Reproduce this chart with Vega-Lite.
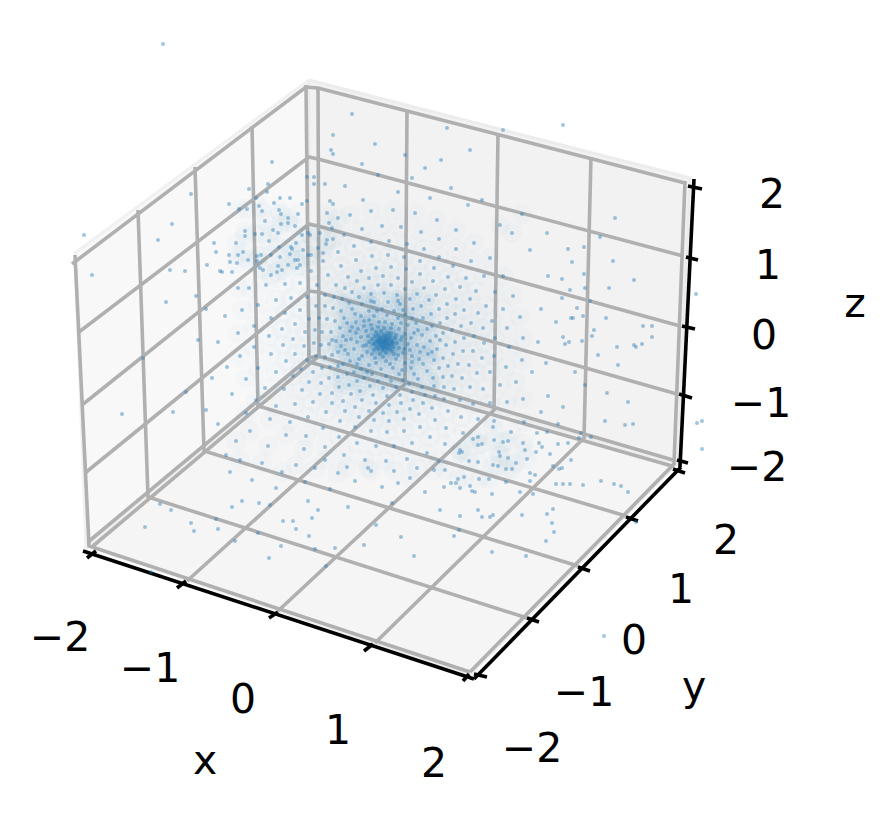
{"$schema":"https://vega.github.io/schema/vega-lite/v6.json","autosize":{"type":"fit","contains":"padding"},"width":895,"height":816,"padding":0,"background":"white","view":{"stroke":null},
"datasets":{
"panes":[{"g":"left","o":0,"a":309,"b":80},{"g":"left","o":1,"a":75,"b":253},{"g":"left","o":2,"a":86,"b":548},{"g":"left","o":3,"a":309,"b":360},{"g":"left","o":4,"a":309,"b":80},
{"g":"back","o":0,"a":309,"b":80},{"g":"back","o":1,"a":690,"b":178},{"g":"back","o":2,"a":678,"b":464},{"g":"back","o":3,"a":309,"b":356},{"g":"back","o":4,"a":309,"b":80},
{"g":"floor","o":0,"a":87,"b":546},{"g":"floor","o":1,"a":309,"b":360},{"g":"floor","o":2,"a":675,"b":465},{"g":"floor","o":3,"a":470,"b":675},{"g":"floor","o":4,"a":87,"b":546}],
"grid":[
{"g":"x-2","o":0,"a":93,"b":546},{"g":"x-2","o":1,"a":319,"b":356},{"g":"x-2","o":2,"a":318,"b":87},
{"g":"x-1","o":0,"a":187,"b":581},{"g":"x-1","o":1,"a":405,"b":384},{"g":"x-1","o":2,"a":407,"b":110},
{"g":"x0","o":0,"a":278,"b":611},{"g":"x0","o":1,"a":494,"b":410},{"g":"x0","o":2,"a":498,"b":133},
{"g":"x1","o":0,"a":375,"b":643},{"g":"x1","o":1,"a":584,"b":438},{"g":"x1","o":2,"a":591,"b":157},
{"g":"x2","o":0,"a":470,"b":672},{"g":"x2","o":1,"a":674,"b":464},{"g":"x2","o":2,"a":685,"b":181},
{"g":"y-2","o":0,"a":470,"b":672},{"g":"y-2","o":1,"a":89,"b":546},{"g":"y-2","o":2,"a":75,"b":255},
{"g":"y-1","o":0,"a":527,"b":618},{"g":"y-1","o":1,"a":148,"b":497},{"g":"y-1","o":2,"a":138,"b":210},
{"g":"y0","o":0,"a":578,"b":566},{"g":"y0","o":1,"a":204,"b":451},{"g":"y0","o":2,"a":195,"b":167},
{"g":"y1","o":0,"a":626,"b":516},{"g":"y1","o":1,"a":258,"b":406},{"g":"y1","o":2,"a":252,"b":126},
{"g":"y2","o":0,"a":672,"b":466},{"g":"y2","o":1,"a":309,"b":362},{"g":"y2","o":2,"a":306,"b":85},
{"g":"z-2","o":0,"a":673,"b":460},{"g":"z-2","o":1,"a":318,"b":356},{"g":"z-2","o":2,"a":309,"b":358},{"g":"z-2","o":3,"a":88,"b":542},
{"g":"z-1","o":0,"a":677,"b":394},{"g":"z-1","o":1,"a":318,"b":292},{"g":"z-1","o":2,"a":309,"b":291},{"g":"z-1","o":3,"a":85,"b":473},
{"g":"z0","o":0,"a":680,"b":326},{"g":"z0","o":1,"a":318,"b":226},{"g":"z0","o":2,"a":309,"b":224},{"g":"z0","o":3,"a":82,"b":405},
{"g":"z1","o":0,"a":683,"b":256},{"g":"z1","o":1,"a":318,"b":159},{"g":"z1","o":2,"a":309,"b":157},{"g":"z1","o":3,"a":79,"b":332},
{"g":"z2","o":0,"a":685,"b":183},{"g":"z2","o":1,"a":318,"b":88},{"g":"z2","o":2,"a":306,"b":87},{"g":"z2","o":3,"a":72,"b":264}],
"axes":[
{"g":"xa","o":0,"a":83,"b":551},{"g":"xa","o":1,"a":474,"b":679},
{"g":"ya","o":0,"a":474,"b":679},{"g":"ya","o":1,"a":681,"b":467},
{"g":"za","o":0,"a":694,"b":179},{"g":"za","o":1,"a":680,"b":467},
{"g":"xt0","o":0,"a":87,"b":558},{"g":"xt0","o":1,"a":96,"b":551},
{"g":"xt1","o":0,"a":177,"b":588},{"g":"xt1","o":1,"a":186,"b":581},
{"g":"xt2","o":0,"a":269,"b":618},{"g":"xt2","o":1,"a":278,"b":612},
{"g":"xt3","o":0,"a":364,"b":651},{"g":"xt3","o":1,"a":373,"b":644},
{"g":"xt4","o":0,"a":463,"b":681},{"g":"xt4","o":1,"a":469,"b":674},
{"g":"yt0","o":0,"a":474,"b":674},{"g":"yt0","o":1,"a":487,"b":677},
{"g":"yt1","o":0,"a":527,"b":618},{"g":"yt1","o":1,"a":539,"b":622},
{"g":"yt2","o":0,"a":578,"b":567},{"g":"yt2","o":1,"a":590,"b":571},
{"g":"yt3","o":0,"a":626,"b":517},{"g":"yt3","o":1,"a":638,"b":521},
{"g":"yt4","o":0,"a":673,"b":469},{"g":"yt4","o":1,"a":685,"b":473},
{"g":"zt0","o":0,"a":688,"b":186},{"g":"zt0","o":1,"a":702,"b":189},
{"g":"zt1","o":0,"a":686,"b":257},{"g":"zt1","o":1,"a":698,"b":260},
{"g":"zt2","o":0,"a":682,"b":326},{"g":"zt2","o":1,"a":695,"b":329},
{"g":"zt3","o":0,"a":679,"b":394},{"g":"zt3","o":1,"a":692,"b":398},
{"g":"zt4","o":0,"a":677,"b":460},{"g":"zt4","o":1,"a":688,"b":463}],
"labels":[
{"t":"−2","a":60,"b":639},{"t":"−1","a":150,"b":670},{"t":"0","a":243,"b":701},{"t":"1","a":338,"b":732},{"t":"2","a":434,"b":765},{"t":"x","a":205,"b":762},
{"t":"−2","a":532,"b":750},{"t":"−1","a":584,"b":694},{"t":"0","a":634,"b":642},{"t":"1","a":681,"b":591},{"t":"2","a":726,"b":542},{"t":"y","a":694,"b":688},
{"t":"2","a":772,"b":196},{"t":"1","a":768,"b":267},{"t":"0","a":764,"b":337},{"t":"−1","a":761,"b":405},{"t":"−2","a":757,"b":469},{"t":"z","a":855,"b":305}],
"pts":[
{"a":163,"b":44},{"a":604,"b":636},{"a":697,"b":423},{"a":563,"b":125},{"a":352,"b":114},{"a":696,"b":294},{"a":702,"b":421},{"a":702,"b":449},{"a":447,"b":128},{"a":503,"b":130},
{"a":84,"b":235},{"a":172,"b":224},{"a":158,"b":240},{"a":92,"b":275},{"a":191,"b":194},{"a":170,"b":270},{"a":185,"b":271},{"a":229,"b":204},{"a":249,"b":189},{"a":272,"b":162},{"a":268,"b":184},{"a":267,"b":192},{"a":239,"b":209},{"a":247,"b":209},{"a":256,"b":198},{"a":259,"b":206},{"a":262,"b":211},{"a":274,"b":203},{"a":280,"b":198},{"a":290,"b":198},{"a":279,"b":210},{"a":281,"b":214},{"a":288,"b":218},{"a":298,"b":214},{"a":302,"b":204},{"a":307,"b":201},{"a":307,"b":177},{"a":314,"b":177},{"a":314,"b":184},{"a":325,"b":184},{"a":333,"b":135},{"a":331,"b":150},{"a":333,"b":154},{"a":265,"b":221},{"a":281,"b":224},{"a":288,"b":223},{"a":295,"b":226},{"a":245,"b":231},{"a":245,"b":236},{"a":255,"b":234},{"a":262,"b":234},{"a":273,"b":230},{"a":278,"b":233},{"a":269,"b":241},{"a":214,"b":243},{"a":236,"b":243},{"a":216,"b":252},{"a":243,"b":252},{"a":238,"b":255},{"a":229,"b":255},{"a":230,"b":262},{"a":237,"b":263},{"a":248,"b":260},{"a":207,"b":265},{"a":220,"b":271},{"a":222,"b":272},{"a":232,"b":272},{"a":257,"b":256},{"a":261,"b":255},{"a":271,"b":255},{"a":279,"b":247},{"a":280,"b":257},{"a":257,"b":261},{"a":263,"b":270},{"a":271,"b":275},{"a":277,"b":272},{"a":282,"b":270},{"a":288,"b":265},{"a":290,"b":254},{"a":295,"b":260},{"a":298,"b":260},{"a":300,"b":265},{"a":291,"b":247},{"a":296,"b":243},{"a":302,"b":235},{"a":308,"b":233},{"a":303,"b":250},{"a":308,"b":255},{"a":318,"b":248},{"a":323,"b":253},{"a":327,"b":240},{"a":333,"b":239},{"a":320,"b":233},{"a":332,"b":228},{"a":338,"b":218},{"a":330,"b":201},{"a":333,"b":204},{"a":327,"b":213},
{"a":145,"b":527},{"a":160,"b":504},{"a":171,"b":510},{"a":191,"b":523},{"a":194,"b":531},{"a":216,"b":519},{"a":218,"b":529},{"a":232,"b":507},{"a":242,"b":501},{"a":259,"b":503},{"a":270,"b":505},{"a":235,"b":541},{"a":258,"b":533},{"a":269,"b":558},{"a":281,"b":546},{"a":283,"b":521},{"a":293,"b":521},{"a":296,"b":529},{"a":312,"b":518},{"a":309,"b":536},{"a":315,"b":549},{"a":335,"b":548},{"a":326,"b":566},{"a":308,"b":501},{"a":151,"b":572},
{"a":492,"b":552},{"a":526,"b":556},{"a":546,"b":541},{"a":554,"b":532},{"a":552,"b":523},{"a":553,"b":509},{"a":547,"b":514},{"a":522,"b":515},{"a":493,"b":515},{"a":490,"b":517},{"a":482,"b":517},{"a":478,"b":510},{"a":460,"b":516},{"a":459,"b":530},{"a":454,"b":536},{"a":636,"b":522},{"a":628,"b":492},{"a":621,"b":486},{"a":614,"b":484},{"a":601,"b":481},{"a":583,"b":485},{"a":570,"b":484},{"a":563,"b":484},{"a":556,"b":484},{"a":533,"b":494},{"a":520,"b":492},{"a":492,"b":494},{"a":475,"b":492},{"a":472,"b":491},{"a":460,"b":488},{"a":470,"b":486},{"a":444,"b":487},{"a":456,"b":483},{"a":451,"b":483},{"a":458,"b":479},{"a":464,"b":477},{"a":479,"b":479},{"a":489,"b":479},{"a":506,"b":482},{"a":530,"b":481},{"a":530,"b":473},{"a":535,"b":475},{"a":553,"b":466},{"a":559,"b":469},{"a":562,"b":468},{"a":571,"b":460},{"a":550,"b":454},{"a":558,"b":444},{"a":568,"b":443},{"a":579,"b":438},{"a":591,"b":437},{"a":581,"b":433},{"a":605,"b":421},{"a":625,"b":425},{"a":633,"b":424},{"a":539,"b":443},{"a":542,"b":447},{"a":536,"b":452},{"a":527,"b":459},{"a":525,"b":450},{"a":516,"b":463},{"a":508,"b":458},{"a":506,"b":469},{"a":512,"b":469},{"a":493,"b":465},{"a":498,"b":466},{"a":478,"b":462},{"a":469,"b":461},{"a":459,"b":453},{"a":462,"b":452},{"a":482,"b":444},{"a":478,"b":445},{"a":473,"b":439},{"a":494,"b":440},{"a":503,"b":442},{"a":508,"b":441},{"a":523,"b":443},{"a":499,"b":452},{"a":500,"b":456},{"a":493,"b":427},{"a":511,"b":432},{"a":537,"b":433},{"a":547,"b":432},{"a":558,"b":424},
{"a":615,"b":218},{"a":600,"b":237},{"a":568,"b":249},{"a":584,"b":247},{"a":613,"b":261},{"a":634,"b":280},{"a":562,"b":279},{"a":584,"b":274},{"a":609,"b":288},{"a":585,"b":288},{"a":570,"b":290},{"a":562,"b":298},{"a":577,"b":308},{"a":571,"b":318},{"a":573,"b":318},{"a":583,"b":316},{"a":594,"b":330},{"a":592,"b":336},{"a":643,"b":326},{"a":652,"b":326},{"a":652,"b":337},{"a":563,"b":337},{"a":569,"b":342},{"a":565,"b":344},{"a":582,"b":341},{"a":617,"b":347},{"a":634,"b":345},{"a":636,"b":347},{"a":642,"b":344},
{"a":385,"b":342},{"a":381,"b":338},{"a":389,"b":339},{"a":386,"b":346},{"a":380,"b":345},{"a":391,"b":344},{"a":384,"b":335},{"a":377,"b":341},{"a":393,"b":347},{"a":383,"b":350},{"a":388,"b":333},{"a":375,"b":336},{"a":395,"b":338},{"a":378,"b":349},{"a":397,"b":343},{"a":373,"b":344},{"a":386,"b":353},{"a":392,"b":351},{"a":381,"b":331},{"a":391,"b":333},{"a":372,"b":339},{"a":399,"b":348},{"a":376,"b":332},{"a":383,"b":341},{"a":388,"b":343},{"a":379,"b":342},{"a":385,"b":338},{"a":392,"b":341},{"a":376,"b":347},{"a":387,"b":349},{"a":382,"b":347},{"a":390,"b":336},{"a":374,"b":350},{"a":396,"b":335},{"a":401,"b":340},{"a":369,"b":342},{"a":380,"b":354},{"a":394,"b":354},{"a":384,"b":328},{"a":378,"b":335},{"a":386,"b":340},{"a":383,"b":344},{"a":389,"b":346},{"a":381,"b":342},{"a":387,"b":336},{"a":379,"b":339},{"a":393,"b":343},{"a":375,"b":343},{"a":384,"b":348},{"a":390,"b":349},
{"a":366,"b":331},{"a":371,"b":325},{"a":379,"b":322},{"a":392,"b":324},{"a":399,"b":329},{"a":405,"b":334},{"a":408,"b":344},{"a":403,"b":353},{"a":396,"b":359},{"a":386,"b":361},{"a":375,"b":358},{"a":367,"b":352},{"a":363,"b":346},{"a":361,"b":337},{"a":358,"b":329},{"a":364,"b":321},{"a":374,"b":316},{"a":387,"b":315},{"a":398,"b":318},{"a":408,"b":325},{"a":414,"b":333},{"a":417,"b":345},{"a":412,"b":356},{"a":405,"b":363},{"a":393,"b":368},{"a":381,"b":369},{"a":369,"b":365},{"a":359,"b":359},{"a":354,"b":349},{"a":351,"b":339},{"a":352,"b":327},{"a":361,"b":316},{"a":369,"b":311},{"a":382,"b":309},{"a":394,"b":311},{"a":405,"b":315},{"a":416,"b":323},{"a":422,"b":335},{"a":424,"b":347},{"a":419,"b":359},{"a":411,"b":368},{"a":399,"b":374},{"a":386,"b":376},{"a":372,"b":374},{"a":361,"b":369},{"a":350,"b":361},{"a":345,"b":350},{"a":343,"b":336},{"a":347,"b":323},{"a":355,"b":314},{"a":369,"b":320},{"a":378,"b":327},{"a":391,"b":328},{"a":402,"b":337},{"a":404,"b":349},{"a":398,"b":355},{"a":383,"b":357},{"a":372,"b":354},{"a":366,"b":345},{"a":368,"b":336},{"a":372,"b":329},{"a":385,"b":322},{"a":401,"b":323},{"a":411,"b":338},{"a":410,"b":350},{"a":390,"b":364},{"a":376,"b":363},{"a":362,"b":356},{"a":357,"b":342},{"a":356,"b":333},{"a":364,"b":326},{"a":377,"b":311},{"a":403,"b":310},{"a":412,"b":318},{"a":427,"b":329},{"a":430,"b":341},{"a":428,"b":354},{"a":423,"b":364},{"a":414,"b":374},{"a":403,"b":380},{"a":391,"b":381},{"a":378,"b":381},{"a":364,"b":378},{"a":354,"b":372},{"a":343,"b":364},{"a":338,"b":352},{"a":336,"b":341},{"a":340,"b":328},{"a":344,"b":318},{"a":352,"b":309},{"a":362,"b":304},{"a":374,"b":302},{"a":388,"b":302},{"a":400,"b":304},{"a":413,"b":309},{"a":423,"b":318},{"a":432,"b":326},{"a":436,"b":336},{"a":437,"b":349},{"a":434,"b":360},{"a":427,"b":371},{"a":418,"b":379},{"a":409,"b":384},{"a":396,"b":387},{"a":383,"b":388},{"a":370,"b":386},{"a":357,"b":381},{"a":347,"b":374},{"a":338,"b":366},{"a":332,"b":355},{"a":329,"b":344},{"a":331,"b":332},{"a":335,"b":321},{"a":341,"b":311},{"a":349,"b":303},{"a":359,"b":297},{"a":371,"b":294},{"a":384,"b":293},{"a":397,"b":295},{"a":410,"b":299},{"a":421,"b":306},{"a":431,"b":314},{"a":440,"b":323},{"a":443,"b":333},{"a":446,"b":345},{"a":443,"b":358},{"a":439,"b":368},{"a":433,"b":378},{"a":422,"b":387},{"a":412,"b":392},{"a":400,"b":395},{"a":387,"b":396},{"a":373,"b":395},{"a":360,"b":391},{"a":349,"b":385},{"a":338,"b":377},{"a":330,"b":367},{"a":325,"b":357},{"a":321,"b":345},{"a":322,"b":332},{"a":327,"b":319},{"a":333,"b":308},{"a":342,"b":299},{"a":352,"b":292},{"a":364,"b":288},{"a":378,"b":285},{"a":391,"b":285},{"a":405,"b":289},{"a":417,"b":294},{"a":429,"b":300},{"a":439,"b":309},{"a":447,"b":318},{"a":452,"b":330},{"a":455,"b":342},{"a":453,"b":354},{"a":448,"b":366},{"a":443,"b":377},{"a":434,"b":386},{"a":425,"b":395},{"a":413,"b":400},{"a":401,"b":403},{"a":389,"b":405},{"a":376,"b":403},{"a":362,"b":400},{"a":351,"b":394},{"a":339,"b":387},{"a":329,"b":378},{"a":322,"b":368},{"a":316,"b":356},{"a":314,"b":343},{"a":315,"b":330},{"a":319,"b":318},{"a":325,"b":306},{"a":334,"b":297},{"a":345,"b":288},{"a":357,"b":281},{"a":369,"b":278},{"a":383,"b":276},{"a":398,"b":278},{"a":412,"b":282},{"a":424,"b":288},{"a":436,"b":295},{"a":447,"b":304},{"a":455,"b":314},{"a":461,"b":326},{"a":464,"b":338},{"a":463,"b":351},{"a":458,"b":364},{"a":452,"b":376},{"a":444,"b":387},{"a":435,"b":396},{"a":423,"b":403},{"a":410,"b":409},{"a":397,"b":412},{"a":383,"b":413},{"a":369,"b":411},{"a":355,"b":407},{"a":343,"b":401},{"a":332,"b":393},{"a":321,"b":383},{"a":313,"b":372},{"a":307,"b":360},{"a":304,"b":346},{"a":305,"b":332},{"a":309,"b":319},{"a":316,"b":306},{"a":325,"b":295},{"a":336,"b":285},{"a":348,"b":277},{"a":361,"b":271},{"a":376,"b":268},{"a":391,"b":267},{"a":406,"b":269},{"a":420,"b":274},{"a":433,"b":281},{"a":445,"b":289},{"a":456,"b":299},{"a":464,"b":310},{"a":471,"b":323},{"a":474,"b":336},{"a":473,"b":351},{"a":469,"b":365},{"a":462,"b":378},{"a":454,"b":389},{"a":444,"b":399},{"a":432,"b":408},{"a":419,"b":414},{"a":404,"b":419},{"a":389,"b":421},{"a":374,"b":420},{"a":359,"b":417},{"a":345,"b":411},{"a":332,"b":403},{"a":320,"b":394},{"a":309,"b":382},{"a":301,"b":369},{"a":295,"b":354},{"a":293,"b":339},{"a":295,"b":324},{"a":300,"b":310},{"a":307,"b":297},{"a":317,"b":285},{"a":328,"b":275},{"a":341,"b":266},{"a":356,"b":260},{"a":372,"b":256},{"a":388,"b":255},{"a":404,"b":257},{"a":420,"b":261},{"a":434,"b":268},{"a":448,"b":277},{"a":460,"b":287},{"a":470,"b":299},{"a":478,"b":313},{"a":483,"b":328},{"a":484,"b":343},{"a":482,"b":358},{"a":477,"b":373},{"a":470,"b":387},{"a":460,"b":400},{"a":448,"b":411},{"a":435,"b":420},{"a":420,"b":427},{"a":404,"b":431},{"a":387,"b":432},{"a":371,"b":431},{"a":355,"b":427},{"a":340,"b":421},{"a":326,"b":412},{"a":313,"b":402},{"a":302,"b":390},{"a":293,"b":376},{"a":286,"b":361},{"a":283,"b":345},{"a":282,"b":329},{"a":285,"b":313},{"a":291,"b":298},{"a":300,"b":283},{"a":311,"b":271},{"a":323,"b":261},{"a":338,"b":252},{"a":354,"b":246},{"a":371,"b":242},{"a":389,"b":241},{"a":407,"b":244},{"a":424,"b":249},{"a":439,"b":257},{"a":453,"b":266},{"a":466,"b":278},{"a":476,"b":291},{"a":486,"b":306},{"a":492,"b":321},{"a":495,"b":338},{"a":494,"b":356},{"a":490,"b":372},{"a":483,"b":389},{"a":473,"b":404},{"a":461,"b":417},{"a":446,"b":428},{"a":430,"b":437},{"a":412,"b":443},{"a":394,"b":446},{"a":376,"b":446},{"a":357,"b":443},{"a":339,"b":437},{"a":323,"b":428},{"a":308,"b":417},{"a":295,"b":404},{"a":284,"b":389},{"a":276,"b":372},{"a":271,"b":354},{"a":269,"b":336},{"a":271,"b":318},{"a":276,"b":300},{"a":285,"b":284},{"a":297,"b":268},{"a":311,"b":255},{"a":326,"b":244},{"a":344,"b":235},{"a":362,"b":229},{"a":382,"b":226},{"a":401,"b":227},{"a":421,"b":232},{"a":439,"b":239},{"a":456,"b":249},{"a":471,"b":261},{"a":484,"b":276},{"a":495,"b":292},{"a":503,"b":309},{"a":507,"b":328},{"a":509,"b":347},{"a":506,"b":367},{"a":500,"b":385},{"a":490,"b":403},{"a":478,"b":419},{"a":463,"b":433},{"a":445,"b":444},{"a":427,"b":453},{"a":407,"b":459},{"a":386,"b":461},{"a":365,"b":460},{"a":344,"b":455},{"a":325,"b":447},{"a":306,"b":436},{"a":290,"b":422},{"a":276,"b":406},{"a":265,"b":388},{"a":258,"b":368},{"a":254,"b":347},{"a":254,"b":326},{"a":258,"b":305},{"a":266,"b":285},{"a":278,"b":266},{"a":292,"b":249},{"a":310,"b":235},{"a":329,"b":223},{"a":350,"b":215},{"a":371,"b":211},{"a":393,"b":210},{"a":415,"b":213},{"a":437,"b":220},{"a":456,"b":230},{"a":474,"b":243},{"a":490,"b":258},{"a":503,"b":276},{"a":513,"b":296},{"a":520,"b":317},{"a":523,"b":338},{"a":522,"b":360},{"a":516,"b":382},{"a":507,"b":402},{"a":494,"b":421},{"a":478,"b":437},{"a":460,"b":450},{"a":439,"b":461},{"a":417,"b":468},{"a":394,"b":471},{"a":371,"b":471},{"a":347,"b":467},{"a":325,"b":460},{"a":304,"b":449},{"a":286,"b":435},{"a":270,"b":419},{"a":256,"b":400},{"a":246,"b":379},{"a":240,"b":356},{"a":238,"b":333},{"a":242,"b":310},{"a":249,"b":288},{"a":260,"b":268},{"a":346,"b":340},{"a":350,"b":331},{"a":356,"b":322},{"a":348,"b":354},{"a":357,"b":364},{"a":367,"b":372},{"a":418,"b":330},{"a":420,"b":352},{"a":412,"b":362},{"a":402,"b":370},{"a":371,"b":301},{"a":398,"b":301},{"a":332,"b":340},{"a":341,"b":346},{"a":440,"b":340},{"a":432,"b":352},
{"a":363,"b":200},{"a":398,"b":192},{"a":430,"b":198},{"a":468,"b":205},{"a":500,"b":225},{"a":530,"b":250},{"a":548,"b":276},{"a":541,"b":309},{"a":538,"b":342},{"a":532,"b":372},{"a":523,"b":399},{"a":546,"b":363},{"a":556,"b":322},{"a":512,"b":233},{"a":345,"b":186},{"a":378,"b":175},{"a":412,"b":178},{"a":451,"b":188},{"a":482,"b":200},{"a":522,"b":214},{"a":547,"b":233},{"a":572,"b":262},{"a":590,"b":301},{"a":598,"b":355},{"a":585,"b":385},{"a":563,"b":407},{"a":541,"b":412},{"a":607,"b":393},{"a":628,"b":402},{"a":575,"b":372},{"a":618,"b":365},{"a":606,"b":318},{"a":548,"b":396},{"a":524,"b":422},{"a":470,"b":150},{"a":405,"b":155},{"a":375,"b":144},{"a":425,"b":168},{"a":362,"b":164},{"a":441,"b":160},
{"a":238,"b":288},{"a":225,"b":316},{"a":218,"b":342},{"a":227,"b":367},{"a":206,"b":309},{"a":198,"b":340},{"a":212,"b":378},{"a":232,"b":394},{"a":246,"b":413},{"a":196,"b":296},{"a":166,"b":302},{"a":143,"b":358},{"a":122,"b":414},{"a":173,"b":412},{"a":186,"b":392},{"a":206,"b":410},{"a":218,"b":424},{"a":250,"b":431},{"a":268,"b":446},{"a":236,"b":441},{"a":226,"b":455},{"a":240,"b":460},{"a":262,"b":463},{"a":282,"b":472},{"a":305,"b":482},{"a":330,"b":489},{"a":355,"b":481},{"a":382,"b":487},{"a":410,"b":478},{"a":434,"b":470},{"a":425,"b":492},{"a":392,"b":503},{"a":348,"b":507},{"a":318,"b":510},{"a":376,"b":525},{"a":401,"b":537},{"a":364,"b":545},{"a":414,"b":556},{"a":440,"b":510},{"a":276,"b":488},{"a":252,"b":480},{"a":230,"b":472},{"a":296,"b":465},{"a":338,"b":473},{"a":368,"b":468},{"a":398,"b":483},{"a":445,"b":470},{"a":315,"b":468}
]
},
"encoding":{"x":{"field":"a","type":"quantitative","axis":null,"scale":{"domain":[0,895],"nice":false,"zero":false}},"y":{"field":"b","type":"quantitative","axis":null,"scale":{"domain":[0,816],"reverse":true,"nice":false,"zero":false}}},
"layer":[
{"data":{"name":"panes"},"transform":[{"filter":"datum.g==='left'"}],"mark":{"type":"line","fill":"#f8f8f8","stroke":"#f1f1f1","strokeWidth":3},"encoding":{"order":{"field":"o"}}},
{"data":{"name":"panes"},"transform":[{"filter":"datum.g==='back'"}],"mark":{"type":"line","fill":"#f2f2f2","stroke":"#ececec","strokeWidth":3},"encoding":{"order":{"field":"o"}}},
{"data":{"name":"panes"},"transform":[{"filter":"datum.g==='floor'"}],"mark":{"type":"line","fill":"#f5f5f5","stroke":"#eeeeee","strokeWidth":3},"encoding":{"order":{"field":"o"}}},
{"data":{"name":"grid"},"mark":{"type":"line","stroke":"#b0b0b0","strokeWidth":3.6},"encoding":{"detail":{"field":"g"},"order":{"field":"o"}}},
{"data":{"name":"axes"},"mark":{"type":"line","stroke":"black","strokeWidth":3.6},"encoding":{"detail":{"field":"g"},"order":{"field":"o"}}},
{"data":{"name":"pts"},"transform":[{"filter":"datum.a>235 && datum.a<530 && datum.b>205 && datum.b<480"}],"mark":{"type":"circle","color":"#1f77b4","size":420,"opacity":0.022}},
{"data":{"name":"pts"},"transform":[{"filter":"datum.a>335 && datum.a<435 && datum.b>292 && datum.b<392"}],"mark":{"type":"circle","color":"#1f77b4","size":150,"opacity":0.06}},
{"data":{"name":"pts"},"mark":{"type":"circle","color":"#1f77b4","size":16,"opacity":0.42}},
{"data":{"name":"labels"},"mark":{"type":"text","font":"DejaVu Sans","fontSize":41,"color":"black","align":"center","baseline":"middle"},"encoding":{"text":{"field":"t"}}}
]}
